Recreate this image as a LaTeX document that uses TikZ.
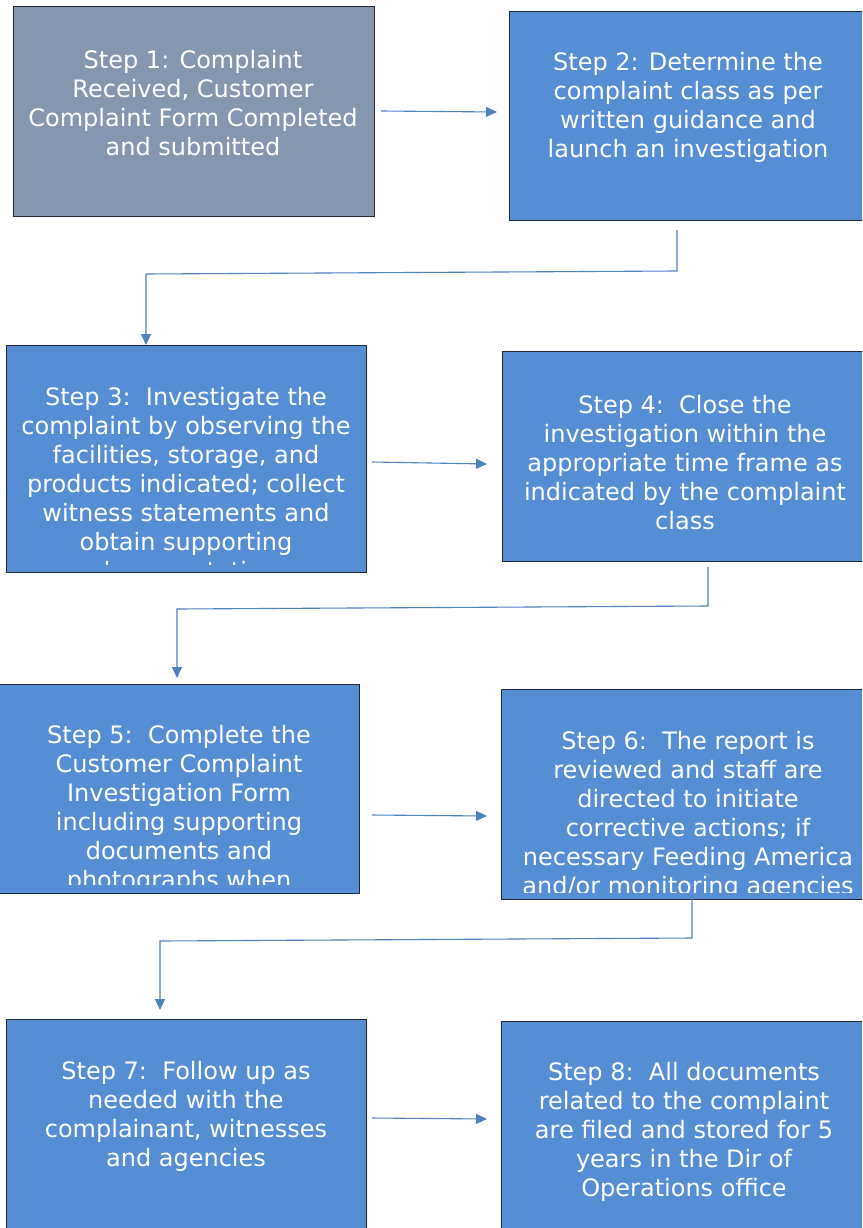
\documentclass[tikz,border=0pt]{standalone}
\usepackage{fontspec}
\setmainfont{DejaVu Sans}
\usetikzlibrary{arrows.meta}
\definecolor{greybox}{HTML}{8497B0}
\definecolor{bluebox}{HTML}{558ED5}
\definecolor{edge}{HTML}{1F2733}
\definecolor{conncol}{HTML}{4F81BD}
\tikzset{
  stepbox/.style={draw=edge, line width=1.2pt, fill=bluebox, anchor=north west, inner sep=0pt},
  steptext/.style={text=white, align=center, inner sep=0pt, font=\fontsize{24}{29}\selectfont},
  conn/.style={draw=conncol, line width=1.1pt, -{Triangle[length=11pt,width=10pt]}},
}
\begin{document}
\begin{tikzpicture}[x=1pt,y=-1pt]
\clip (0,0) rectangle (862,1228);
\fill[white] (0,0) rectangle (862,1228);
% boxes
\node[stepbox, fill=greybox, minimum width=361pt, minimum height=210pt] (s1) at (13,6) {};
\node[stepbox, minimum width=360pt, minimum height=209pt] (s2) at (509,11) {};
\node[stepbox, minimum width=360pt, minimum height=227pt] (s3) at (6,345) {};
\node[stepbox, minimum width=365pt, minimum height=210pt] (s4) at (502,351) {};
\node[stepbox, minimum width=364pt, minimum height=209pt] (s5) at (-5,684) {};
\node[stepbox, minimum width=366pt, minimum height=210pt] (s6) at (501,689) {};
\node[stepbox, minimum width=360pt, minimum height=220pt] (s7) at (6,1019) {};
\node[stepbox, minimum width=366pt, minimum height=220pt] (s8) at (501,1021) {};
% texts
\node[steptext] (t1) at (193,103) {Step 1: Complaint\\Received, Customer\\Complaint Form Completed\\and submitted};
\node[steptext] (t2) at (688,107) {Step 2: Determine the\\complaint class as per\\written guidance and\\launch an investigation};
\begin{scope}
\clip (s3.south west) ++(0,-9) rectangle (s3.north east);
\node[steptext] (t3) at (186,484) {Step 3:\ \ Investigate the\\complaint by observing the\\facilities, storage, and\\products indicated; collect\\witness statements and\\obtain supporting\\documentation};
\end{scope}
\node[steptext] (t4) at (685,463) {Step 4:\ \ Close the\\investigation within the\\appropriate time frame as\\indicated by the complaint\\class};
\begin{scope}
\clip (s5.south west) ++(0,-10) rectangle (s5.north east);
\node[steptext] (t5) at (179,809) {Step 5:\ \ Complete the\\Customer Complaint\\Investigation Form\\including supporting\\documents and\\photographs when};
\end{scope}
\begin{scope}
\clip (s6.south west) ++(0,-8) rectangle (s6.north east);
\node[steptext] (t6) at (688,815) {Step 6:\ \ The report is\\reviewed and staff are\\directed to initiate\\corrective actions; if\\necessary Feeding America\\and/or monitoring agencies};
\end{scope}
\node[steptext] (t7) at (186,1116) {Step 7:\ \ Follow up as\\needed with the\\complainant, witnesses\\and agencies};
\node[steptext] (t8) at (684,1132) {Step 8:\ \ All documents\\related to the complaint\\are filed and stored for 5\\years in the Dir of\\Operations office};
% connectors
\coordinate (a1) at (381,111);
\coordinate (a2) at (497,112);
\draw[conn] (a1) -- (a2);
\coordinate (b1) at (677,230);
\coordinate (b2) at (677,271);
\coordinate (b3) at (146,274);
\draw[conn] (b1) -- (b2) -- (b3) -- (b3 |- s3.north);
\coordinate (c1) at (372,462);
\coordinate (c2) at (487,464);
\draw[conn] (c1) -- (c2);
\coordinate (d1) at (708,567);
\coordinate (d2) at (708,606);
\coordinate (d3) at (177,609);
\draw[conn] (d1) -- (d2) -- (d3) -- ([yshift=6pt]d3 |- s5.north);
\coordinate (e1) at (372,815);
\coordinate (e2) at (487,816);
\draw[conn] (e1) -- (e2);
\coordinate (f1) at (692,899);
\coordinate (f2) at (692,938);
\coordinate (f3) at (160,941);
\draw[conn] (f1) -- (f2) -- (f3) -- ([yshift=9pt]f3 |- s7.north);
\coordinate (g1) at (372,1118);
\coordinate (g2) at (487,1119);
\draw[conn] (g1) -- (g2);
\end{tikzpicture}
\end{document}
